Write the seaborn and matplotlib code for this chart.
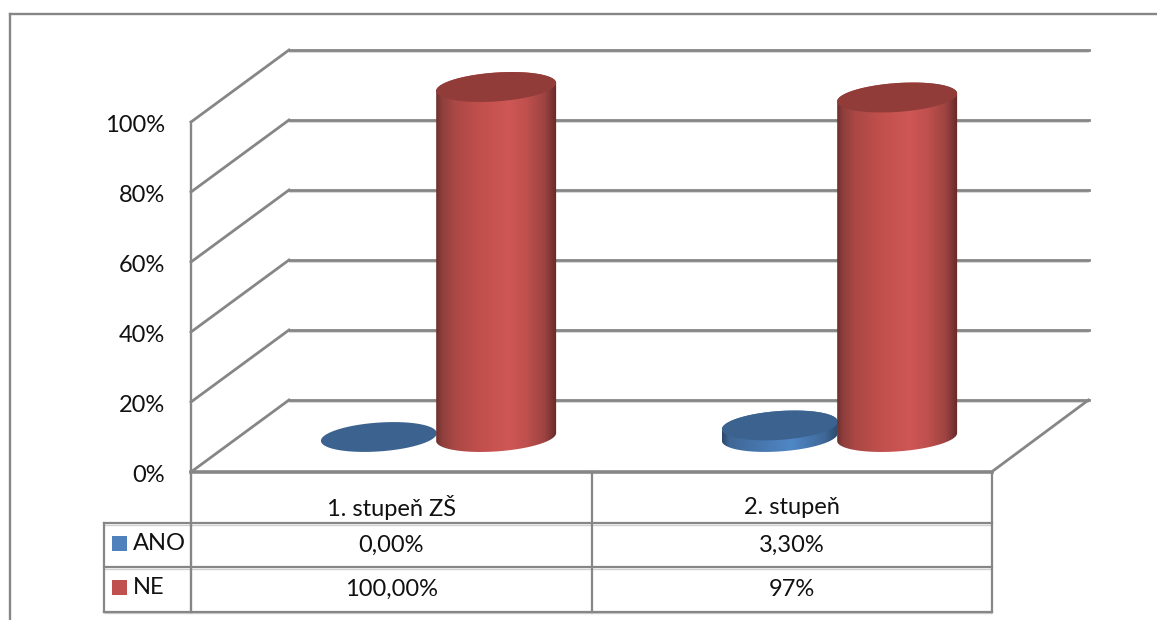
import numpy as np
import pandas as pd
import matplotlib
matplotlib.use("Agg")
import matplotlib.pyplot as plt
from matplotlib.colors import LinearSegmentedColormap
from matplotlib.patches import Polygon, Rectangle
from matplotlib.transforms import Affine2D
import seaborn as sns

# Survey results
categories = ["1. stupeň ZŠ", "2. stupeň"]
series_names = ["ANO", "NE"]
ano_values = [0.0, 3.3]
ne_values = [100.0, 97.0]
ano_labels = ["0,00%", "3,30%"]
ne_labels = ["100,00%", "97%"]
y_ticks = [0, 20, 40, 60, 80, 100]

WIDTH, HEIGHT = 1157, 620
LINE = "#868686"
SHADOW = "#cfcfcf"
TEXT = "#111111"
FONT_SIZE = 17
FLAT = {"ANO": "#4f81bd", "NE": "#c0504d"}
TOP = {"ANO": "#3c638f", "NE": "#923c3a"}
RADIUS = {"ANO": 0.99, "NE": 1.025}
SHADES = {
    "ANO": [(0.0, "#2c4868"), (0.06, "#3f6797"), (0.6, "#5087c6"), (0.88, "#3f6797"), (1.0, "#2c4868")],
    "NE": [(0.0, "#6e302e"), (0.05, "#8f3f3d"), (0.15, "#aa4845"), (0.35, "#c04f4c"),
           (0.6, "#cf5755"), (0.75, "#bf504d"), (0.9, "#9d4341"), (1.0, "#652a29")],
}

sns.set_theme(style="white")
plt.rcParams["font.family"] = ["Lato", "DejaVu Sans"]

df = pd.DataFrame({
    "stupen": categories * 2,
    "odpoved": [series_names[0]] * 2 + [series_names[1]] * 2,
    "podil": ano_values + ne_values,
})

fig = plt.figure(figsize=(WIDTH / 100, HEIGHT / 100), dpi=100, facecolor="white")
ax = fig.add_axes([0, 0, 1, 1])

# Data scale: one category is 401 px wide, one percent is 3.5 px tall
PX_X, PX_Y = 401.0, 3.5
ORIGIN_X, ORIGIN_Y = 437.5, 437.0
xlim = ((0 - ORIGIN_X) / PX_X, (WIDTH - ORIGIN_X) / PX_X)
ylim = ((ORIGIN_Y - HEIGHT) / PX_Y, ORIGIN_Y / PX_Y)

sns.barplot(data=df, x="stupen", y="podil", hue="odpoved", order=categories,
            hue_order=series_names, width=0.585, gap=0, dodge=True, legend=False,
            ax=ax, zorder=3)

# Chrome is laid out in image pixels, y pointing down
pix = Affine2D().scale(1, -1).translate(0, HEIGHT)


def rule(xs, ys, lw=2.0, shadow=True, color=LINE):
    if shadow:
        ax.plot(np.array(xs), np.array(ys) + 1.6, color=SHADOW, lw=lw * 0.6,
                transform=pix, zorder=1, solid_capstyle="butt", clip_on=False)
    ax.plot(xs, ys, color=color, lw=lw, transform=pix, zorder=1.2,
            solid_capstyle="projecting", clip_on=False)


# Outer frame
rule([10, 10], [14, 620], lw=1.7, shadow=False)
rule([10, 1157], [14, 14], lw=1.7, shadow=False)

# Walls: back gridlines and the diagonals running to the front edge
DEPTH_X, DEPTH_Y = 98, 72
FRONT_X, FRONT_Y = 191, 472
RIGHT_X = 991.5
for tick in y_ticks:
    y_front = FRONT_Y - tick * PX_Y
    rule([FRONT_X + DEPTH_X, RIGHT_X + DEPTH_X - 1], [y_front - DEPTH_Y] * 2)
    rule([FRONT_X, FRONT_X + DEPTH_X], [y_front, y_front - DEPTH_Y], shadow=False)
    ax.text(165, y_front + 3, f"{tick}%", transform=pix, ha="right", va="center",
            fontsize=FONT_SIZE, color=TEXT)
rule([FRONT_X, FRONT_X], [FRONT_Y - 100 * PX_Y, 612], lw=1.7, shadow=False)
rule([FRONT_X, RIGHT_X], [FRONT_Y, FRONT_Y], lw=2.6, shadow=False)
rule([RIGHT_X, RIGHT_X + DEPTH_X - 1], [FRONT_Y, FRONT_Y - DEPTH_Y], shadow=False)

# Data table under the plot
ROWS_Y = [523, 567, 611.5]
TABLE_LEFT, COL_MID = 103.5, 591.5
for y in ROWS_Y:
    rule([TABLE_LEFT, RIGHT_X], [y, y], lw=1.6)
rule([TABLE_LEFT, TABLE_LEFT], [ROWS_Y[0], ROWS_Y[2]], lw=1.6, shadow=False)
rule([COL_MID, COL_MID], [FRONT_Y, ROWS_Y[2]], lw=1.6, shadow=False)
rule([RIGHT_X, RIGHT_X], [FRONT_Y, ROWS_Y[2]], lw=1.6, shadow=False)

col_centers = [(FRONT_X + COL_MID) / 2, (COL_MID + RIGHT_X) / 2]
for cx, cat, a_lab, n_lab in zip(col_centers, categories, ano_labels, ne_labels):
    ax.text(cx, 507, cat, transform=pix, ha="center", va="center", fontsize=FONT_SIZE, color=TEXT)
    ax.text(cx, 545, a_lab, transform=pix, ha="center", va="center", fontsize=FONT_SIZE, color=TEXT)
    ax.text(cx, 589, n_lab, transform=pix, ha="center", va="center", fontsize=FONT_SIZE, color=TEXT)

for name, key_y, text_y in zip(series_names, [536, 580], [544, 588]):
    ax.add_patch(Rectangle((112, key_y), 15, 15, facecolor=FLAT[name], edgecolor="none",
                           transform=pix, zorder=2, clip_on=False))
    ax.text(133, text_y, name, transform=pix, ha="left", va="center", fontsize=FONT_SIZE, color=TEXT)

# Turn the flat bars into tilted cylinders, keeping their position, width and height
TILT = np.deg2rad(4.0)
B_PX = 14.4


def disc(cx, v, half_w, t):
    a = half_w * PX_X
    ex = a * np.cos(t) * np.cos(TILT) + B_PX * np.sin(t) * np.sin(TILT)
    ey = a * np.cos(t) * np.sin(-TILT) + B_PX * np.sin(t) * np.cos(TILT)
    # ey grows downward on screen, so it lowers the data value
    return np.column_stack([cx + ex / PX_X, v - ey / PX_Y])


for name, container in zip(series_names, ax.containers):
    cmap = LinearSegmentedColormap.from_list(name, SHADES[name])
    z = 3 if name == "ANO" else 4
    for bar in container:
        w, v = bar.get_width(), bar.get_height()
        cx, half = bar.get_x() + w / 2, w / 2 * RADIUS[name]
        bar.set_facecolor("none")
        bar.set_linewidth(0)
        if v > 0:
            lower = disc(cx, 0, half, np.linspace(0, np.pi, 90))
            upper = disc(cx, v, half, np.linspace(np.pi, 2 * np.pi, 90))
            outline = Polygon(np.vstack([lower, upper]), closed=True, transform=ax.transData,
                              facecolor="none", edgecolor="none")
            ax.add_patch(outline)
            img = ax.imshow(np.linspace(0, 1, 256)[None, :], cmap=cmap, aspect="auto",
                            extent=[cx - half, cx + half, -10, v + 10],
                            zorder=z, interpolation="bilinear")
            img.set_clip_path(outline)
        ax.add_patch(Polygon(disc(cx, v, half, np.linspace(0, 2 * np.pi, 180)), closed=True,
                             facecolor=TOP[name], edgecolor="none", zorder=z + 0.1))

ax.set_xlim(*xlim)
ax.set_ylim(*ylim)
ax.axis("off")

fig.savefig("out.png", dpi=100, facecolor="white")
